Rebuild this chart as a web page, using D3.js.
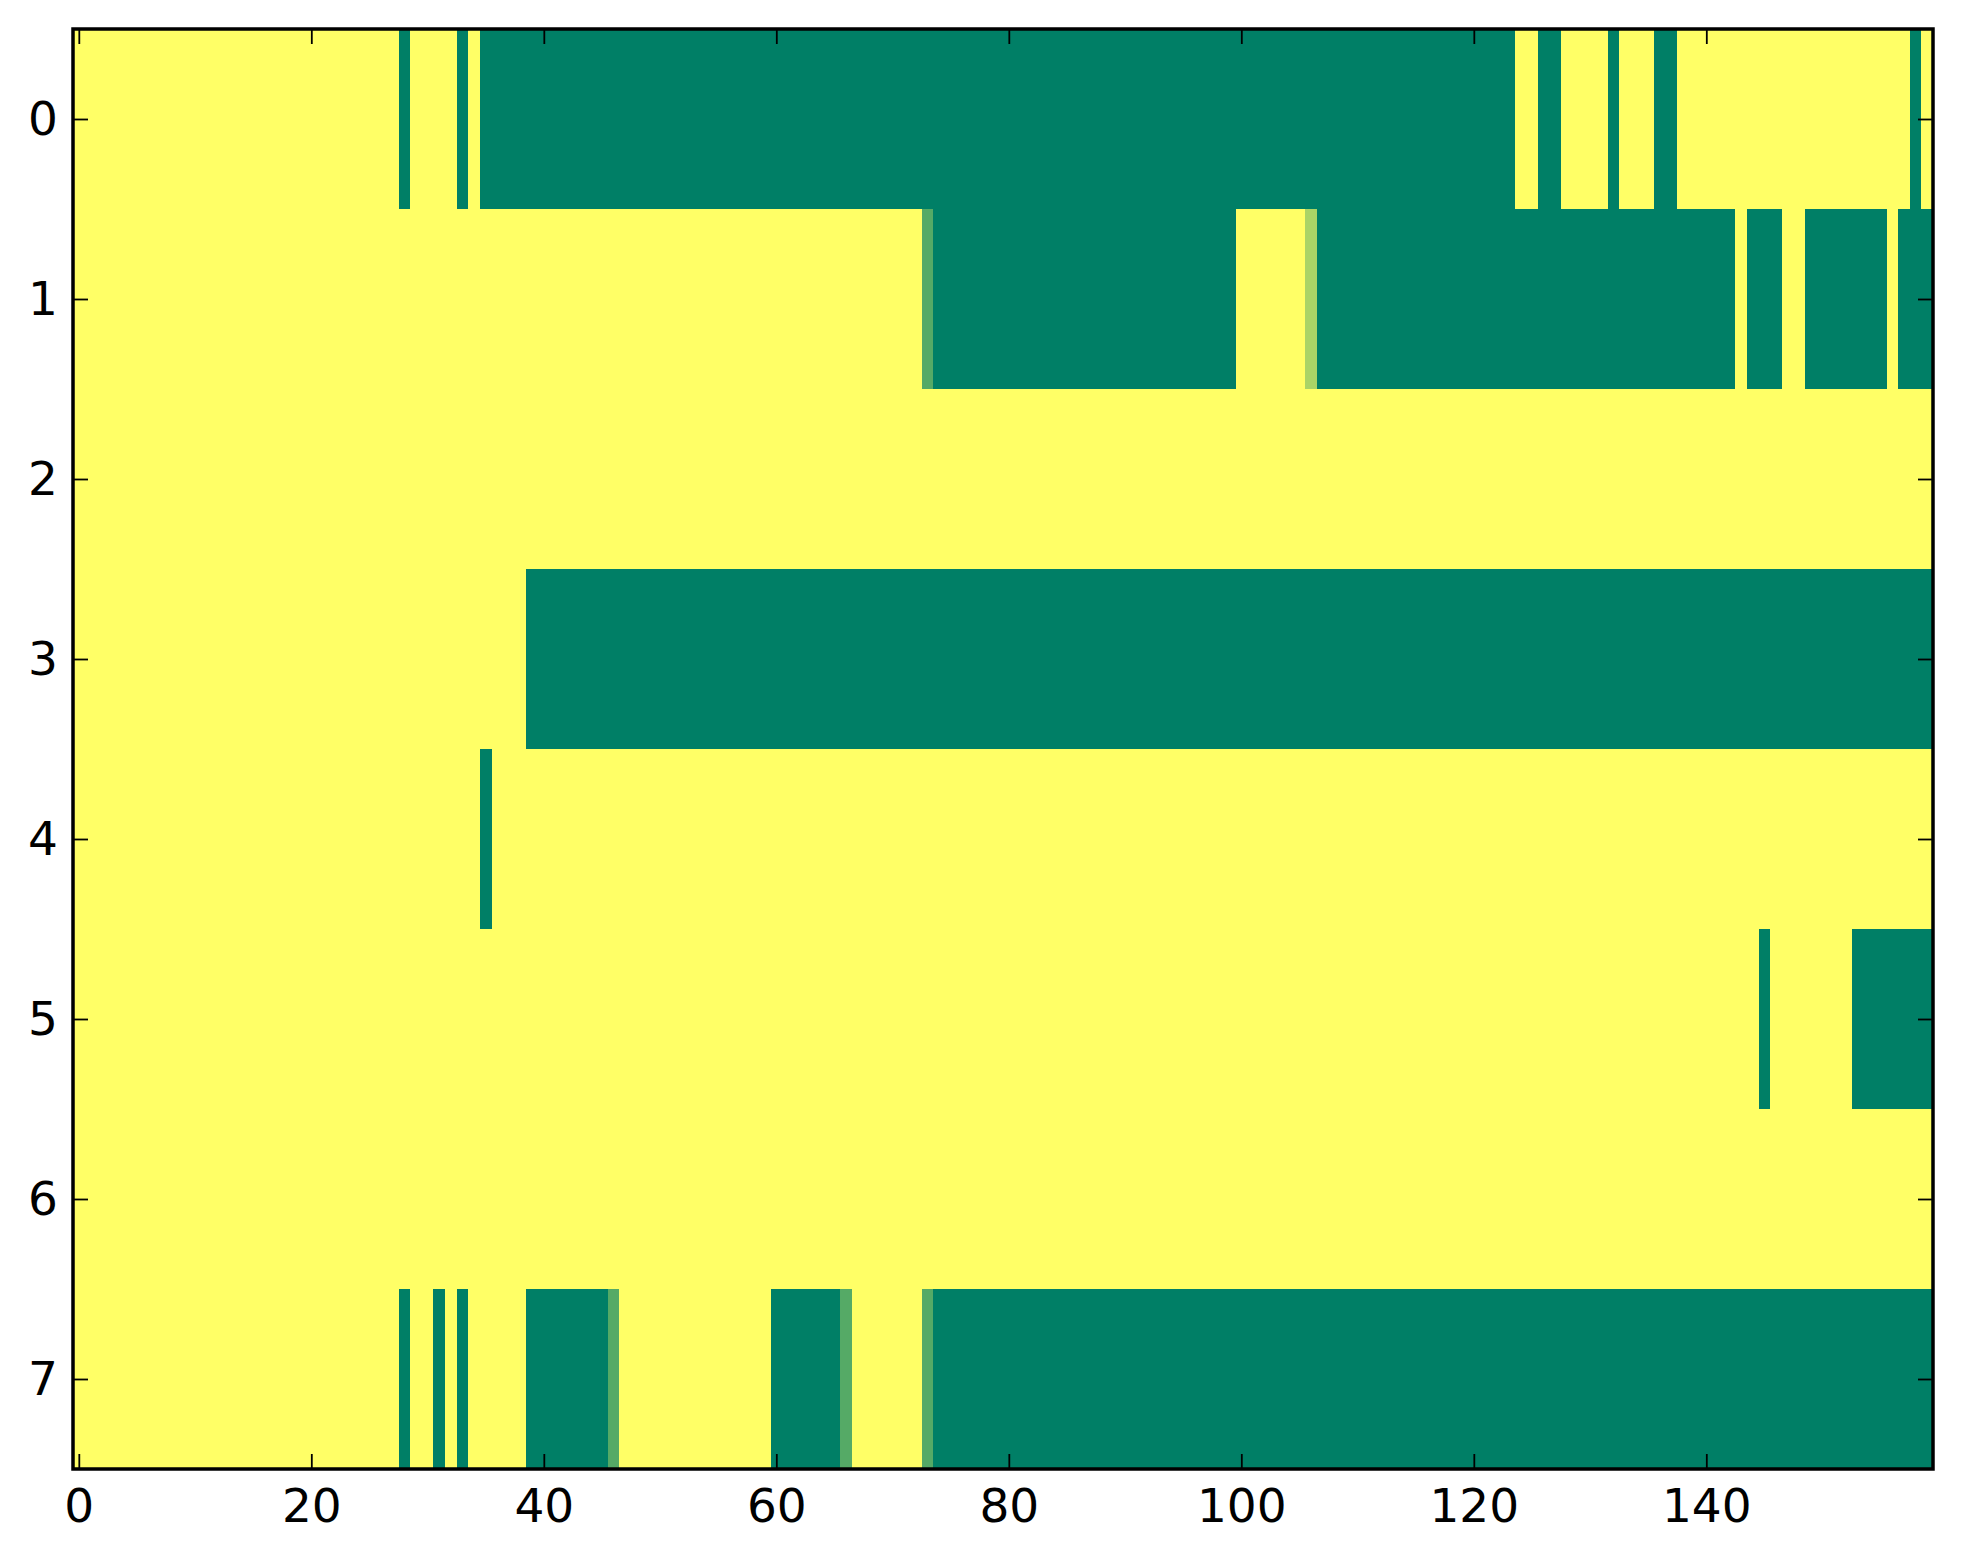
<!DOCTYPE html>
<html>
<head>
<meta charset="utf-8">
<script src="https://d3js.org/d3.v7.min.js"></script>
<style>
  body { margin: 0; background: #fff; }
  .tick text { font-family: "DejaVu Sans", sans-serif; font-size: 47px; fill: #000; }
  .tick line { stroke: #000; stroke-width: 1.8px; }
</style>
</head>
<body>
<svg id="chart" width="1963" height="1564"></svg>
<script>
// each row: one digit per column, value = digit / 3 (0 = green, 3 = yellow)
var row0 = "3333333333 3333333333 3333333303 3330300000 0000000000 0000000000 0000000000 0000000000 " +
           "0000000000 0000000000 0000000000 0000000000 0000330033 3303330033 3333333333 3333333303";
var row1 = "3333333333 3333333333 3333333333 3333333333 3333333333 3333333333 3333333333 3331000000 " +
           "0000000000 0000000000 3333332000 0000000000 0000000000 0000000000 0003000330 0000003000";
var row2 = "3333333333 3333333333 3333333333 3333333333 3333333333 3333333333 3333333333 3333333333 " +
           "3333333333 3333333333 3333333333 3333333333 3333333333 3333333333 3333333333 3333333333";
var row3 = "3333333333 3333333333 3333333333 3333333330 0000000000 0000000000 0000000000 0000000000 " +
           "0000000000 0000000000 0000000000 0000000000 0000000000 0000000000 0000000000 0000000000";
var row4 = "3333333333 3333333333 3333333333 3333303333 3333333333 3333333333 3333333333 3333333333 " +
           "3333333333 3333333333 3333333333 3333333333 3333333333 3333333333 3333333333 3333333333";
var row5 = "3333333333 3333333333 3333333333 3333333333 3333333333 3333333333 3333333333 3333333333 " +
           "3333333333 3333333333 3333333333 3333333333 3333333333 3333333333 3333303333 3330000000";
var row6 = "3333333333 3333333333 3333333333 3333333333 3333333333 3333333333 3333333333 3333333333 " +
           "3333333333 3333333333 3333333333 3333333333 3333333333 3333333333 3333333333 3333333333";
var row7 = "3333333333 3333333333 3333333303 3030333330 0000001333 3333333333 0000001333 3331000000 " +
           "0000000000 0000000000 0000000000 0000000000 0000000000 0000000000 0000000000 0000000000";

var rows = [row0, row1, row2, row3, row4, row5, row6, row7];
var xTicks = [0, 20, 40, 60, 80, 100, 120, 140];
var yTicks = [0, 1, 2, 3, 4, 5, 6, 7];

var cells = [];
rows.forEach(function(r, i) {
  r.replace(/ /g, "").split("").forEach(function(ch, j) {
    cells.push({row: i, col: j, value: +ch / 3});
  });
});

var svg = d3.select("#chart"),
    margin = {left: 73, right: 30, top: 29, bottom: 95},
    width = +svg.attr("width") - margin.left - margin.right,
    height = +svg.attr("height") - margin.top - margin.bottom;

var nCols = rows[0].replace(/ /g, "").length;

var x = d3.scaleLinear()
    .domain([-0.5, nCols - 0.5])
    .range([margin.left, margin.left + width]);

var y = d3.scaleLinear()
    .domain([-0.5, rows.length - 0.5])
    .range([margin.top, margin.top + height]);

// matplotlib "summer"
var color = d3.scaleLinear()
    .domain([0, 1])
    .range(["#007f66", "#ffff66"]);

svg.append("g")
    .attr("class", "cells")
    .attr("shape-rendering", "crispEdges")
  .selectAll("rect")
  .data(cells)
  .enter().append("rect")
    .attr("x", function(d) { return x(d.col - 0.5); })
    .attr("y", function(d) { return y(d.row - 0.5); })
    .attr("width", function(d) { return x(d.col + 0.5) - x(d.col - 0.5) + 0.5; })
    .attr("height", function(d) { return y(d.row + 0.5) - y(d.row - 0.5) + 0.5; })
    .attr("fill", function(d) { return color(d.value); });

var tickLen = 15;

svg.append("g")
    .attr("transform", "translate(0," + (margin.top + height) + ")")
    .call(d3.axisBottom(x).tickValues(xTicks).tickSize(-tickLen).tickPadding(20))
    .call(function(g) { g.select(".domain").remove(); });

svg.append("g")
    .attr("transform", "translate(0," + margin.top + ")")
    .call(d3.axisTop(x).tickValues(xTicks).tickSize(-tickLen).tickFormat(""))
    .call(function(g) { g.select(".domain").remove(); });

svg.append("g")
    .attr("transform", "translate(" + margin.left + ",0)")
    .call(d3.axisLeft(y).tickValues(yTicks).tickSize(-tickLen).tickPadding(15))
    .call(function(g) { g.select(".domain").remove(); });

svg.append("g")
    .attr("transform", "translate(" + (margin.left + width) + ",0)")
    .call(d3.axisRight(y).tickValues(yTicks).tickSize(-tickLen).tickFormat(""))
    .call(function(g) { g.select(".domain").remove(); });

svg.selectAll(".tick text").attr("font-family", null).attr("font-size", null);

svg.append("rect")
    .attr("class", "frame")
    .attr("x", margin.left)
    .attr("y", margin.top)
    .attr("width", width)
    .attr("height", height)
    .attr("fill", "none")
    .attr("stroke", "#000")
    .attr("stroke-width", 3.5);
</script>
</body>
</html>
